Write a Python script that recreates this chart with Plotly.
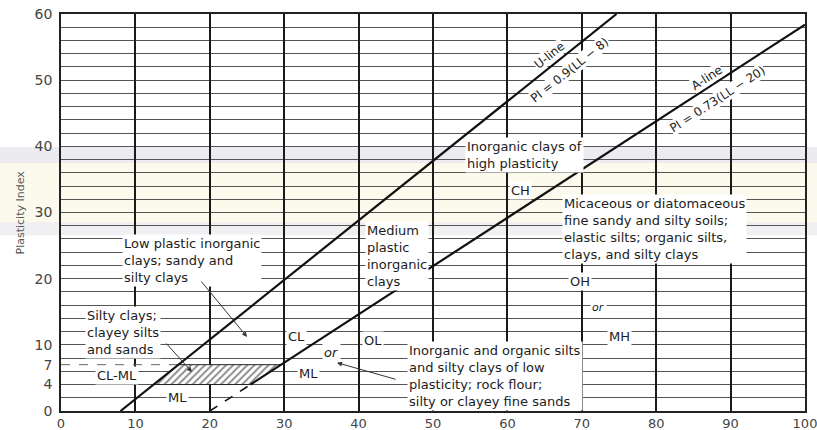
import plotly.graph_objects as go

# ---------------- data ----------------
U_SLOPE, U_SHIFT = 0.9, 8      # U-line: PI = 0.9(LL - 8)
A_SLOPE, A_SHIFT = 0.73, 20    # A-line: PI = 0.73(LL - 20)
LL_RANGE = [0, 100]
PI_RANGE = [0, 60]
CLML_PI = [4, 7]               # CL-ML hatched band limits
X_TICKS = [0, 10, 20, 30, 40, 50, 60, 70, 80, 90, 100]
Y_TICKS = [0, 4, 7, 10, 20, 30, 40, 50, 60]
Y_TITLE = "Plasticity Index"

ZONE_TEXT = [
    "Low plastic inorganic<br>clays; sandy and<br>silty clays",
    "Silty clays;<br>clayey silts<br>and sands",
    "CL-ML", "ML", "CL", "or", "ML", "OL",
    "Inorganic and organic silts<br>and silty clays of low<br>plasticity; rock flour;<br>silty or clayey fine sands",
    "Medium<br>plastic<br>inorganic<br>clays",
    "Inorganic clays of<br>high plasticity",
    "CH",
    "Micaceous or diatomaceous<br>fine sandy and silty soils;<br>elastic silts; organic silts,<br>clays, and silty clays",
    "OH", "or", "MH",
]
U_TEXT = ["U-line", "PI = 0.9(LL \u2212 8)"]
A_TEXT = ["A-line", "PI = 0.73(LL \u2212 20)"]


def ll_u(pi):
    return U_SHIFT + pi / U_SLOPE


def ll_a(pi):
    return A_SHIFT + pi / A_SLOPE


def pi_a(ll):
    return A_SLOPE * (ll - A_SHIFT)


# ---------------- layout / style (positions kept separate) ----------------
FONT = "DejaVu Sans"
TXT = "#1c1c1c"
# (x, y, xanchor, size, italic)
ZONE_POS = [
    (8.2, 22.8, "left", 13, False),
    (3.2, 11.9, "left", 13, False),
    (7.5, 5.4, "center", 13, False),
    (15.6, 2.0, "center", 13, False),
    (31.6, 11.2, "center", 13, False),
    (36.4, 8.9, "center", 13, True),
    (33.3, 5.7, "center", 13, False),
    (41.9, 10.6, "center", 13, False),
    (46.5, 5.3, "left", 13, False),
    (40.9, 23.4, "left", 13, False),
    (54.3, 38.7, "left", 13, False),
    (61.7, 33.4, "center", 13, False),
    (67.3, 27.5, "left", 13, False),
    (69.8, 19.5, "center", 13, False),
    (72.2, 15.6, "center", 11, True),
    (75.0, 11.2, "center", 13, False),
]
U_POS = [(65.7, 53.8), (68.4, 51.5)]
A_POS = [(86.8, 50.3), (88.3, 47.15)]
U_ANGLE = -38.7
A_ANGLE = -33.0
# arrows: head (x, y) data, tail offset (ax, ay) pixels
ARROWS = [((25.0, 11.2), (-47, -57)),
          ((17.6, 5.9), (-27, -30)),
          ((37.1, 7.3), (60, 17))]
# faint scanned-page tint bands (paper y ranges, colour)
TINT_BANDS = [((0.625, 0.665), "#ececf0"),
              ((0.476, 0.625), "#fbfaec"),
              ((0.443, 0.476), "#f0f0f2")]

fig = go.Figure()

# CL-ML hatched band
lo, hi = CLML_PI
fig.add_trace(go.Scatter(
    x=[ll_u(lo), ll_a(lo), ll_a(hi), ll_u(hi), ll_u(lo)],
    y=[lo, lo, hi, hi, lo],
    mode="lines", fill="toself",
    fillpattern=dict(shape="/", fgcolor="#1a1a1a", bgcolor="white", size=5, solidity=0.4),
    line=dict(color="#222222", width=1), hoverinfo="skip", showlegend=False))

# dashed line at PI = 7 up to the U-line
fig.add_trace(go.Scatter(
    x=[LL_RANGE[0], ll_u(hi)], y=[hi, hi], mode="lines",
    line=dict(color="#666666", width=1, dash="dash"), hoverinfo="skip", showlegend=False))

# U-line
fig.add_trace(go.Scatter(
    x=[ll_u(PI_RANGE[0]), ll_u(PI_RANGE[1])], y=[PI_RANGE[0], PI_RANGE[1]],
    mode="lines", line=dict(color="#111111", width=2.2), hoverinfo="skip", showlegend=False))

# A-line (solid above PI=4, dashed below)
fig.add_trace(go.Scatter(
    x=[ll_a(lo), LL_RANGE[1]], y=[lo, pi_a(LL_RANGE[1])],
    mode="lines", line=dict(color="#111111", width=2.2), hoverinfo="skip", showlegend=False))
fig.add_trace(go.Scatter(
    x=[ll_a(0), ll_a(lo)], y=[0, lo],
    mode="lines", line=dict(color="#111111", width=1.6, dash="dash"), hoverinfo="skip", showlegend=False))

anns = []
for t, (x, y, xa, s, it) in zip(ZONE_TEXT, ZONE_POS):
    anns.append(dict(x=x, y=y, text=t, showarrow=False, xanchor=xa, yanchor="middle",
                     align="left", bgcolor="white", borderpad=1,
                     font=dict(family=FONT, size=s, color=TXT, style="italic" if it else "normal")))
for t, (x, y) in zip(U_TEXT, U_POS):
    anns.append(dict(x=x, y=y, text=t, showarrow=False, textangle=U_ANGLE,
                     bgcolor="white", borderpad=0,
                     font=dict(family=FONT, size=12, color=TXT)))
for t, (x, y) in zip(A_TEXT, A_POS):
    anns.append(dict(x=x, y=y, text=t, showarrow=False, textangle=A_ANGLE,
                     bgcolor="white", borderpad=0,
                     font=dict(family=FONT, size=12, color=TXT)))
for (hx, hy), (ax, ay) in ARROWS:
    anns.append(dict(x=hx, y=hy, ax=ax, ay=ay, text="", showarrow=True,
                     arrowhead=2, arrowsize=1, arrowwidth=1, arrowcolor="#333333"))
anns.append(dict(xref="paper", yref="paper", x=0, y=0.5, xshift=-41, text=Y_TITLE,
                 showarrow=False, textangle=-90, xanchor="center", yanchor="middle",
                 font=dict(family=FONT, size=11, color="#555555")))

shapes = [dict(type="rect", xref="paper", yref="paper", x0=-0.09, x1=1.02, y0=y0, y1=y1,
               fillcolor=c, line=dict(width=0), layer="below")
          for (y0, y1), c in TINT_BANDS]

fig.update_layout(
    width=817, height=430,
    margin=dict(l=61, r=12, t=14, b=19, autoexpand=False),
    paper_bgcolor="white", plot_bgcolor="rgba(0,0,0,0)",
    showlegend=False,
    annotations=anns,
    shapes=shapes,
    xaxis=dict(range=LL_RANGE, tickmode="array", tickvals=X_TICKS, automargin=False,
               showgrid=True, gridcolor="#1a1a1a", gridwidth=1.5,
               showline=True, linecolor="#222222", linewidth=1.5, mirror=True,
               zeroline=False, ticks="", ticklabelstandoff=0, ticklabeloverflow="allow",
               tickfont=dict(family=FONT, size=13, color="#444444")),
    yaxis=dict(range=PI_RANGE, tickmode="array", tickvals=Y_TICKS, automargin=False,
               showgrid=False,
               minor=dict(dtick=2, tick0=0, showgrid=True, gridcolor="#555555", gridwidth=1, ticks=""),
               showline=True, linecolor="#222222", linewidth=1.5, mirror=True,
               zeroline=False, ticks="", ticklabelstandoff=4, ticklabeloverflow="allow",
               tickfont=dict(family=FONT, size=14, color="#444444")),
)

# remove the default 8px page margin so the figure fills the window exactly
fig.write_html("out.html",
               config={"displayModeBar": False},
               post_script="document.body.style.margin='0';document.body.style.overflow='hidden';")
